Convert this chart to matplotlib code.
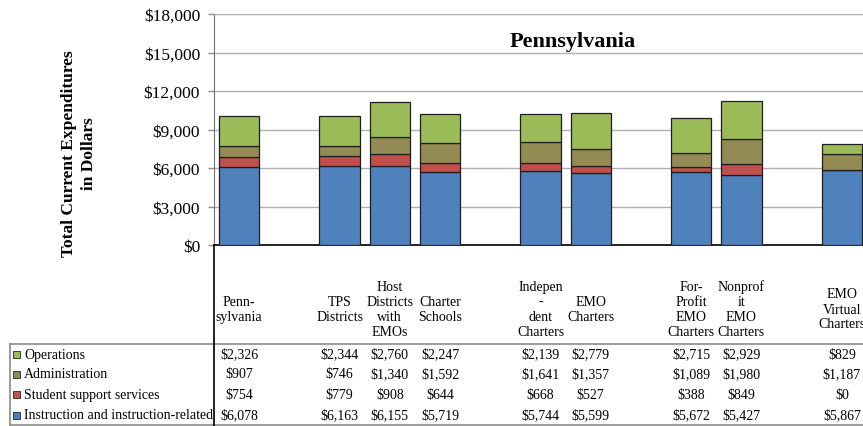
#!/usr/bin/env python3
"""Stacked per-pupil expenditure bars for Pennsylvania with an Excel-style data table."""

import matplotlib
matplotlib.use("Agg")
import matplotlib.pyplot as plt
from matplotlib.lines import Line2D
from matplotlib.patches import Rectangle
from matplotlib.ticker import FuncFormatter
from matplotlib.transforms import blended_transform_factory

plt.rcParams["font.family"] = ["Liberation Serif", "DejaVu Serif"]

categories = [
    "Penn-\nsylvania",
    "TPS\nDistricts",
    "Host\nDistricts\nwith\nEMOs",
    "Charter\nSchools",
    "Indepen\n-\ndent\nCharters",
    "EMO\nCharters",
    "For-\nProfit\nEMO\nCharters",
    "Nonprof\nit\nEMO\nCharters",
    "EMO\nVirtual\nCharters",
]
group_sizes = [1, 3, 2, 2, 1]

series_names = [
    "Instruction and instruction-related",
    "Student support services",
    "Administration",
    "Operations",
]
instruction = [6078, 6163, 6155, 5719, 5744, 5599, 5672, 5427, 5867]
student_support = [754, 779, 908, 644, 668, 527, 388, 849, 0]
administration = [907, 746, 1340, 1592, 1641, 1357, 1089, 1980, 1187]
operations = [2326, 2344, 2760, 2247, 2139, 2779, 2715, 2929, 829]

colors = ["#4F81BD", "#C0504D", "#948A54", "#9BBB59"]

W, H = 863, 427


def fx(px):
    return px / W


def fy(py):
    return 1 - py / H


# slot positions: one empty slot between groups
positions = []
slot = 0
for size in group_sizes:
    for _ in range(size):
        positions.append(slot)
        slot += 1
    slot += 1
n_slots = slot - 1

fig = plt.figure(figsize=(W / 100, H / 100), dpi=100)
ax_left, ax_right, ax_top, ax_bottom = 214, 867, 15, 246
ax = fig.add_axes([fx(ax_left), fy(ax_bottom), fx(ax_right - ax_left), (ax_bottom - ax_top) / H])

series = [instruction, student_support, administration, operations]
bottom = [0] * len(categories)
for values, color in zip(series, colors):
    ax.bar(positions, values, width=0.8, bottom=bottom, color=color,
           edgecolor="#1e1e1e", linewidth=0.9, zorder=3)
    bottom = [b + v for b, v in zip(bottom, values)]

ax.set_xlim(-0.5, n_slots - 0.5)
ax.set_ylim(0, 18000)
ax.set_yticks(range(0, 18001, 3000))
ax.yaxis.set_major_formatter(FuncFormatter(lambda v, _: f"${v:,.0f}"))
ax.tick_params(axis="y", labelsize=12.5, length=4, width=1, color="#8c8c8c", pad=6)
ax.set_xticks([])
ax.grid(axis="y", color="#b0b0b0", linewidth=1, zorder=0)
ax.spines["right"].set_visible(False)
ax.spines["top"].set_color("#b0b0b0")
ax.spines["left"].set_color("#6f6f6f")
ax.spines["bottom"].set_color("#000000")
ax.spines["bottom"].set_linewidth(1.2)

ax.text(fx(573 - ax_left) / fx(ax_right - ax_left), (ax_bottom - 42) / (ax_bottom - ax_top),
        "Pennsylvania", transform=ax.transAxes, ha="center", va="center",
        fontsize=16, fontweight="bold")

fig.text(fx(79), fy(154), "Total Current Expenditures\nin Dollars", rotation=90,
         ha="center", va="center", fontsize=12.5, fontweight="bold", linespacing=1.3)

# data table under the plot
tr = blended_transform_factory(ax.transData, fig.transFigure)
for pos, label in zip(positions, categories):
    ax.text(pos, fy(310), label, transform=tr, ha="center", va="center",
            fontsize=10, linespacing=1.2)

row_y = {"Operations": 355, "Administration": 375,
         "Student support services": 395.5,
         "Instruction and instruction-related": 416}
table_rows = list(zip(series_names, series, colors))[::-1]
for name, values, color in table_rows:
    y = row_y[name]
    fig.add_artist(Rectangle((fx(13), fy(y + 3.5)), fx(7), 7 / H, transform=fig.transFigure,
                             facecolor=color, edgecolor="#3a3a3a", linewidth=0.7))
    fig.text(fx(24), fy(y), name, ha="left", va="center", fontsize=10)
    for pos, v in zip(positions, values):
        ax.text(pos, fy(y), f"${v:,.0f}", transform=tr, ha="center", va="center", fontsize=10)

table_lines = [
    ([10, W], [345, 345], "#8c8c8c"),
    ([10, 10], [345, 426], "#8c8c8c"),
    ([10, W], [426, 426], "#8c8c8c"),
    ([ax_left, ax_left], [ax_bottom, H], "#000000"),
]
for xs, ys, color in table_lines:
    fig.add_artist(Line2D([fx(x) for x in xs], [fy(y) for y in ys],
                          transform=fig.transFigure, color=color, linewidth=1.2))

fig.savefig("out.png", dpi=100)
